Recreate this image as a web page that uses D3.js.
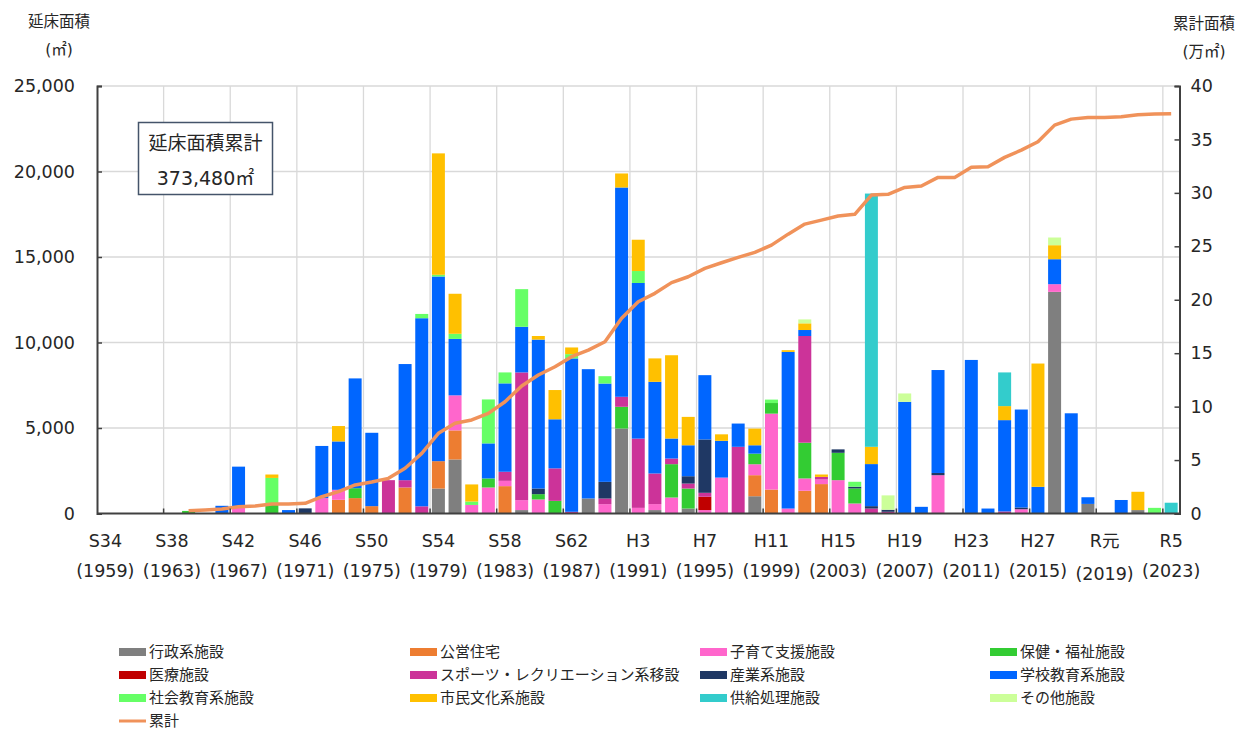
<!DOCTYPE html>
<html lang="ja">
<head>
<meta charset="UTF-8">
<title>延床面積の推移</title>
<style>
  body { margin: 0; background: #fff; }
  svg { display: block; font-family: "DejaVu Sans", "Noto Sans CJK JP", sans-serif; }
  .grid line { stroke: #d9d9d9; stroke-width: 1.3px; }
  .tick-label { font-size: 17.5px; fill: #262626; }
  .legend text { font-size: 15px; fill: #262626; }
</style>
</head>
<body>
<svg width="1237" height="730"></svg>
<script src="https://d3js.org/d3.v7.min.js"></script>
<script>

// 年度 (1959〜2023)
var years = d3.range(1959, 2024);

// x軸ラベル (4年ごと)
var tickYears = [1959, 1963, 1967, 1971, 1975, 1979, 1983, 1987, 1991, 1995, 1999, 2003, 2007, 2011, 2015, 2019, 2023];
var tickEras  = ['S34', 'S38', 'S42', 'S46', 'S50', 'S54', 'S58', 'S62', 'H3', 'H7', 'H11', 'H15', 'H19', 'H23', 'H27', 'R元', 'R5'];

// 用途別 延床面積 (㎡)  5年ごとに区切り: 1959-63 | 1964-68 | ... | 2019-23
var gyosei   = [0,0,0,0,0, 0,0,0,0,0, 0,0,0,0,0, 0,0,0,0,0, 1460,3160,0,0,0, 200,0,0,0,880, 0,4970,0,200,0, 290,0,0,0,1010, 0,0,0,0,0, 0,0,0,0,0, 0,0,0,0,0, 0,0,12960,0,560, 0,0,200,0,0];
var koei     = [0,0,0,0,0, 0,0,0,0,0, 0,0,0,0,800, 900,430,0,1520,0, 1600,1700,0,0,1600, 0,0,0,0,0, 0,0,0,0,0, 0,0,0,0,1230, 1400,0,1330,1720,0, 0,0,0,0,0, 0,0,0,0,0, 0,0,0,0,0, 0,0,0,0,0];
var kosodate = [0,0,0,0,0, 0,0,0,350,0, 0,0,0,900,585, 0,0,0,0,0, 0,2050,500,1520,310, 580,820,0,0,0, 545,0,330,350,935, 0,200,2100,0,640, 4440,290,720,270,1950, 585,0,0,0,0, 2240,0,0,0,0, 250,0,450,0,0, 0,0,0,0,0];
var hoken    = [0,0,0,0,0, 150,0,0,0,0, 600,0,0,0,0, 580,0,0,0,0, 0,0,0,530,0, 0,310,740,0,0, 0,1270,0,0,1950, 1170,0,0,0,620, 620,0,2090,0,1600, 880,0,0,0,0, 0,0,0,0,0, 0,0,0,0,0, 0,0,0,0,0];
var iryo     = [0,0,0,0,0, 0,0,0,0,0, 0,0,0,0,0, 0,0,0,0,0, 0,0,0,0,0, 0,0,0,0,0, 0,0,0,0,0, 0,780,0,0,0, 0,0,0,0,0, 0,0,0,0,0, 0,0,0,0,0, 0,0,0,0,0, 0,0,0,0,0];
var sports   = [0,0,0,0,0, 0,0,0,0,0, 0,0,0,0,0, 0,0,1950,430,420, 0,0,0,0,530, 7470,0,1900,100,0, 330,585,4050,1790,330, 290,230,0,3900,0, 0,0,6240,150,0, 0,290,100,0,0, 0,0,0,0,120, 0,0,0,0,0, 0,0,0,0,0];
var sangyo   = [0,0,0,0,0, 0,0,0,0,0, 0,0,300,0,0, 0,0,0,0,0, 0,0,0,0,0, 0,330,0,0,0, 975,0,0,0,0, 430,3120,0,0,0, 0,0,0,0,200, 100,140,120,0,0, 130,0,0,0,0, 100,0,0,0,0, 0,0,0,0,0];
var gakko    = [0,0,0,0,0, 0,0,450,2390,0, 0,200,0,3050,2830, 6420,4290,0,6790,11000, 10800,3300,0,2050,5170, 2670,8710,2870,8970,7560, 5750,12240,9100,5360,1170, 1810,3760,2150,1360,490, 0,9160,350,0,0, 0,2460,0,6530,390, 6020,0,8980,290,5340, 5730,1560,1460,5860,390, 0,790,0,0,0];
var shakai   = [0,0,0,0,0, 0,0,0,0,0, 1480,0,0,0,0, 0,0,0,0,250, 100,300,200,2570,640, 2200,0,0,250,0, 430,0,700,0,0, 0,0,0,0,0, 200,0,0,0,0, 290,0,0,0,0, 0,0,0,0,0, 0,0,0,0,0, 0,0,0,330,0];
var bunka    = [0,0,0,0,0, 0,0,0,0,0, 200,0,0,0,900, 0,0,0,0,0, 7100,2340,1000,0,0, 0,210,1710,390,0, 0,820,1830,1370,4870, 1660,0,380,0,975, 0,100,390,140,0, 0,1010,0,0,0, 0,0,0,0,820, 0,7210,820,0,0, 0,0,1070,0,0];
var kyokyu   = [0,0,0,0,0, 0,0,0,0,0, 0,0,0,0,0, 0,0,0,0,0, 0,0,0,0,0, 0,0,0,0,0, 0,0,0,0,0, 0,0,0,0,0, 0,0,0,0,0, 0,14810,0,0,0, 0,0,0,0,1970, 0,0,0,0,0, 0,0,0,0,630];
var sonota   = [0,0,0,0,0, 0,0,0,0,0, 0,0,0,0,0, 0,0,0,0,0, 0,0,0,0,0, 0,0,0,0,0, 0,0,0,0,0, 0,0,0,0,0, 0,0,230,0,0, 0,0,840,490,0, 0,0,0,0,0, 0,0,450,0,0, 0,0,0,0,0];

// 累計 (万㎡)
var ruikei = [null,null,null,null,null, 0.26,0.33,0.42,0.64,0.70, 0.89,0.89,0.95,1.57,2.04, 2.67,2.95,3.29,4.23,5.63,
              7.50,8.44,8.75,9.37,10.46, 11.93,12.96,13.73,14.67,15.29, 16.07,18.26,19.81,20.60,21.60, 22.15,22.93,23.46,23.96,24.43,
              25.11,26.14,27.08,27.45,27.83, 27.99,29.79,29.86,30.51,30.64, 31.45,31.45,32.39,32.44,33.32, 34.00,34.78,36.34,36.90,37.06,
              37.06,37.12,37.31,37.37,37.40];

var seriesNames  = ['行政系施設', '公営住宅', '子育て支援施設', '保健・福祉施設', '医療施設', 'スポーツ・レクリエーション系移設',
                    '産業系施設', '学校教育系施設', '社会教育系施設', '市民文化系施設', '供給処理施設', 'その他施設'];
var seriesValues = [gyosei, koei, kosodate, hoken, iryo, sports, sangyo, gakko, shakai, bunka, kyokyu, sonota];
var seriesColors = ['#7f7f7f', '#ed7d31', '#ff66cc', '#33cc33', '#c00000', '#cc3399',
                    '#1f3864', '#0066ff', '#66ff66', '#ffc000', '#33cccc', '#ccff99'];
var lineColor = '#f0925a';

var svg = d3.select('svg');

var plotLeft = 97, plotRight = 1179.5, plotTop = 86, plotBottom = 513.5;

var x = d3.scaleBand().domain(years).range([plotLeft, plotRight]).paddingInner(0.22).paddingOuter(0.11);
var y = d3.scaleLinear().domain([0, 25000]).range([plotBottom, plotTop]);
var yR = d3.scaleLinear().domain([0, 40]).range([plotBottom, plotTop]);

// build stack table
var table = years.map(function (yr, i) {
  var row = { year: yr };
  seriesNames.forEach(function (n, k) { row[n] = seriesValues[k][i]; });
  return row;
});
var stacked = d3.stack().keys(seriesNames)(table);

// gridlines
var grid = svg.append('g').attr('class', 'grid');
grid.selectAll('.h').data(y.ticks(5).slice(1)).enter().append('line')
  .attr('x1', plotLeft).attr('x2', plotRight)
  .attr('y1', function (d) { return y(d); }).attr('y2', function (d) { return y(d); });

var gap = (x.step() - x.bandwidth()) / 2;
var vYears = tickYears.slice(1);
grid.selectAll('.v').data(vYears).enter().append('line')
  .attr('x1', function (d) { return x(d) - gap; }).attr('x2', function (d) { return x(d) - gap; })
  .attr('y1', plotTop).attr('y2', plotBottom);

// bars
svg.append('g').selectAll('g').data(stacked).enter().append('g')
  .attr('fill', function (d, k) { return seriesColors[k]; })
  .selectAll('rect').data(function (d) { return d; }).enter().append('rect')
  .attr('x', function (d) { return x(d.data.year); })
  .attr('width', x.bandwidth())
  .attr('y', function (d) { return y(d[1]); })
  .attr('height', function (d) { return y(d[0]) - y(d[1]); });

// cumulative line
var line = d3.line()
  .defined(function (d) { return d != null; })
  .x(function (d, i) { return x(years[i]) + x.bandwidth() / 2; })
  .y(function (d) { return yR(d); });

svg.append('path').datum(ruikei)
  .attr('d', line)
  .attr('fill', 'none')
  .attr('stroke', lineColor)
  .attr('stroke-width', 3.5)
  .attr('stroke-linejoin', 'round');

// axes
var axisColor = '#404040';
var leftAxis = svg.append('g').attr('transform', 'translate(' + plotLeft + ',0)')
  .call(d3.axisLeft(y).tickValues(d3.range(0, 25001, 5000)).tickFormat(d3.format(',')).tickSize(-5).tickPadding(22));
var rightAxis = svg.append('g').attr('transform', 'translate(' + plotRight + ',0)')
  .call(d3.axisRight(yR).tickValues(d3.range(0, 41, 5)).tickSize(-5).tickPadding(11));
[leftAxis, rightAxis].forEach(function (a) {
  a.attr('font-family', null).attr('font-size', null);
  a.select('.domain').attr('stroke', axisColor).attr('stroke-width', 2);
  a.selectAll('.tick line').attr('stroke', axisColor).attr('stroke-width', 1.5);
  a.selectAll('text').attr('class', 'tick-label').attr('fill', '#262626');
});

svg.append('line').attr('x1', plotLeft).attr('x2', plotRight).attr('y1', plotBottom).attr('y2', plotBottom)
  .attr('stroke', axisColor).attr('stroke-width', 2);
svg.append('g').selectAll('line').data(vYears).enter().append('line')
  .attr('x1', function (d) { return x(d) - gap; }).attr('x2', function (d) { return x(d) - gap; })
  .attr('y1', plotBottom).attr('y2', plotBottom - 5)
  .attr('stroke', axisColor).attr('stroke-width', 1.5);

// x labels (era + year)
var xl = svg.append('g').selectAll('g').data(tickYears).enter().append('g')
  .attr('transform', function (d) { return 'translate(' + (x(d) + x.bandwidth() / 2) + ',0)'; });
xl.append('text').attr('class', 'tick-label').attr('text-anchor', 'middle').attr('y', 547)
  .text(function (d, i) { return tickEras[i]; });
xl.append('text').attr('class', 'tick-label').attr('text-anchor', 'middle')
  .attr('y', function (d) { return d === 2019 ? 580 : 577; })
  .text(function (d) { return '(' + d + ')'; });

// axis titles
svg.append('text').attr('x', 59).attr('y', 27).attr('text-anchor', 'middle')
  .style('font-size', '15.5px').attr('fill', '#262626').text('延床面積');
svg.append('text').attr('x', 59).attr('y', 55).attr('text-anchor', 'middle')
  .style('font-size', '15.5px').attr('fill', '#262626').text('(㎡)');
svg.append('text').attr('x', 1204).attr('y', 29).attr('text-anchor', 'middle')
  .style('font-size', '15.5px').attr('fill', '#262626').text('累計面積');
svg.append('text').attr('x', 1204).attr('y', 57).attr('text-anchor', 'middle')
  .style('font-size', '15.5px').attr('fill', '#262626').text('(万㎡)');

// total box
svg.append('rect').attr('x', 138.5).attr('y', 122.5).attr('width', 134).attr('height', 72)
  .attr('fill', '#fff').attr('stroke', '#44546a').attr('stroke-width', 1.5);
svg.append('text').attr('x', 205.5).attr('y', 150).attr('text-anchor', 'middle')
  .style('font-size', '19px').attr('fill', '#262626').text('延床面積累計');
svg.append('text').attr('x', 205.5).attr('y', 185).attr('text-anchor', 'middle')
  .style('font-size', '19px').attr('fill', '#262626').text('373,480㎡');

// legend
var legendItems = seriesNames.map(function (n, k) { return { name: n, color: seriesColors[k], type: 'bar' }; });
legendItems.push({ name: '累計', color: lineColor, type: 'line' });
var colX = [119, 410, 700, 990];
var rowY = [652, 675, 698, 721];
var lg = svg.append('g').attr('class', 'legend').selectAll('g').data(legendItems).enter().append('g')
  .attr('transform', function (d, i) { return 'translate(' + colX[i % 4] + ',' + rowY[Math.floor(i / 4)] + ')'; });
lg.filter(function (d) { return d.type === 'bar'; }).append('rect')
  .attr('x', 0).attr('y', -4).attr('width', 27).attr('height', 8).attr('fill', function (d) { return d.color; });
lg.filter(function (d) { return d.type === 'line'; }).append('line')
  .attr('x1', 0).attr('x2', 27).attr('y1', 0).attr('y2', 0)
  .attr('stroke', function (d) { return d.color; }).attr('stroke-width', 3);
lg.append('text').attr('x', 30).attr('dy', '0.36em').text(function (d) { return d.name; });

</script>
</body>
</html>
